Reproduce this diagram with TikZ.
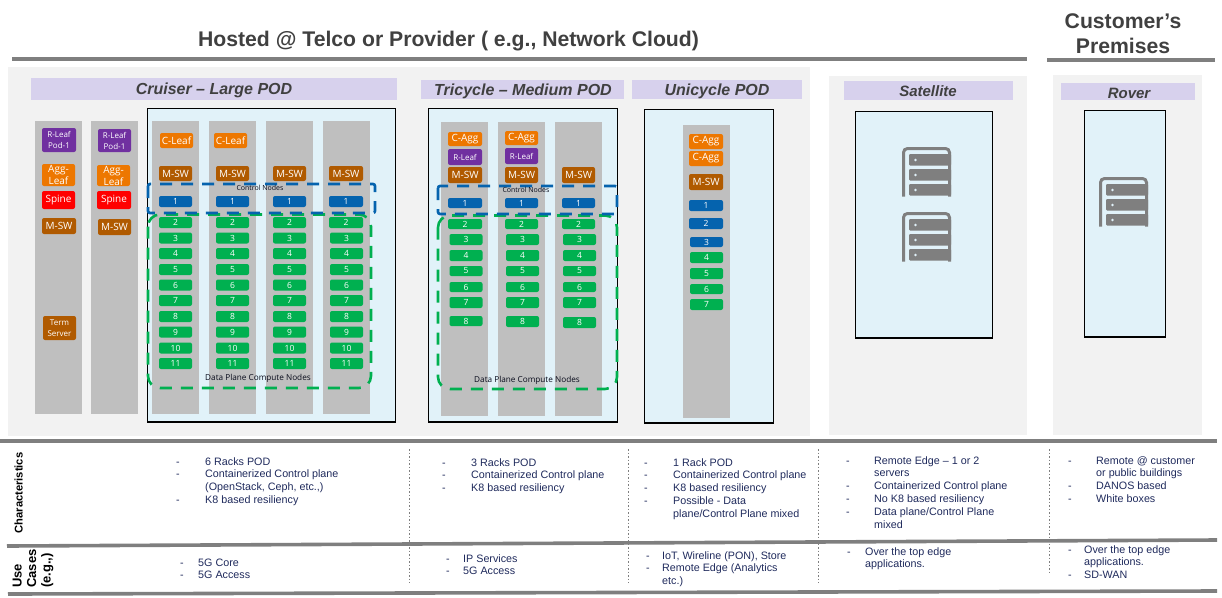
\documentclass[tikz,border=0pt]{standalone}
\usepackage{fontspec}
\setmainfont{Liberation Sans}
\newfontfamily\chipfont{Open Sans}
\definecolor{custcol_f2_f2_f2}{RGB}{242, 242, 242}
\definecolor{custcol_d7_d1_ed}{RGB}{215, 209, 237}
\definecolor{custcol_e1_f2_f9}{RGB}{225, 242, 249}
\definecolor{custcol_bf_bf_bf}{RGB}{191, 191, 191}
\definecolor{custcol_7f_7f_7f}{RGB}{127, 127, 127}
\definecolor{custcol_40_40_40}{RGB}{64, 64, 64}
\definecolor{custcol_1f_2a_5c}{RGB}{31, 42, 92}
\definecolor{custcol_ed_77_00}{RGB}{237, 119, 0}
\definecolor{custcol_70_30_a0}{RGB}{112, 48, 160}
\definecolor{custcol_b0_5a_00}{RGB}{176, 90, 0}
\definecolor{custcol_05_63_ae}{RGB}{5, 99, 174}
\definecolor{custcol_00_b0_50}{RGB}{0, 176, 80}
\tikzset{
  chipbox/.style={inner sep=0, rounded corners=2, text=white, align=center, minimum width=33, minimum height=16, font=\chipfont\fontsize{10pt}{12pt}\selectfont},
  orangebox/.style={chipbox, fill=custcol_ed_77_00},
  purplebox/.style={chipbox, fill=custcol_70_30_a0, font=\chipfont\fontsize{8pt}{11pt}\selectfont},
  brownbox/.style={chipbox, fill=custcol_b0_5a_00},
  redbox/.style={chipbox, fill=red, minimum height=18},
  bluebox/.style={chipbox, fill=custcol_05_63_ae, minimum height=11, font=\chipfont\fontsize{8.5pt}{9pt}\selectfont},
  greenbox/.style={chipbox, fill=custcol_00_b0_50, minimum height=11, font=\chipfont\fontsize{8.5pt}{9pt}\selectfont},
  podtitle/.style={inner sep=0, text=custcol_40_40_40, font=\fontsize{16pt}{16pt}\bfseries\itshape\selectfont},
  headtitle/.style={inner sep=0, text=custcol_40_40_40, font=\fontsize{21.2pt}{25pt}\bfseries\selectfont, align=center},
  smallnote/.style={inner sep=0, text=black!70!custcol_1f_2a_5c, font=\chipfont\fontsize{7pt}{8pt}\selectfont},
  listtext/.style={inner sep=0, anchor=north west, align=left, text=custcol_1f_2a_5c, font=\fontsize{10.75pt}{12.8pt}\selectfont},
  rowtitle/.style={inner sep=0, rotate=90, align=left, text=black, font=\fontsize{11.2pt}{14.5pt}\bfseries\selectfont},
  blackbox/.style={draw=black, line width=1.2pt, fill=custcol_e1_f2_f9},
  bluedash/.style={draw=custcol_05_63_ae, line width=2.6pt, dash pattern=on 12pt off 9pt, rounded corners=2},
  greendash/.style={draw=custcol_00_b0_50, line width=2.6pt, dash pattern=on 12pt off 9pt, rounded corners=12},
  rowrule/.style={draw=custcol_7f_7f_7f, line width=3.6pt},
  coldots/.style={draw=custcol_7f_7f_7f, line width=1pt, dash pattern=on 1.5pt off 2pt},
  serverrack/.pic={
    \draw [custcol_7f_7f_7f, line width=3pt, rounded corners=4] (1.5,49.5) -- (1.5,1.5) -- (47.5,1.5) -- (47.5,49.5);
    \fill [custcol_7f_7f_7f, rounded corners=1] (7,7) rectangle (49,18.5);
    \fill [custcol_7f_7f_7f, rounded corners=1] (7,22) rectangle (49,33.5);
    \fill [custcol_7f_7f_7f, rounded corners=1] (7,37) rectangle (49,48.5);
    \fill [custcol_e1_f2_f9] (13.5,13) circle (1.4);
    \fill [custcol_e1_f2_f9] (13.5,28) circle (1.4);
    \fill [custcol_e1_f2_f9] (13.5,43) circle (1.4);
  },
}
\begin{document}
\begin{tikzpicture}[x=1pt,y=-1pt]
\useasboundingbox (0,0) rectangle (1222,597);
% grey panels
\fill [custcol_f2_f2_f2] (8,67) rectangle (810,436);
\fill [custcol_f2_f2_f2] (829,76) rectangle (1027,435);
\fill [custcol_f2_f2_f2] (1053,75) rectangle (1202,435);
% title bars
\fill [custcol_d7_d1_ed] (31,78) rectangle (397,100);
\fill [custcol_d7_d1_ed] (421,80) rectangle (624,99);
\fill [custcol_d7_d1_ed] (632,80) rectangle (802,99);
\fill [custcol_d7_d1_ed] (844,81) rectangle (1013,100);
\fill [custcol_d7_d1_ed] (1061,83) rectangle (1195,100);
% pod boxes
\draw [blackbox] (147.5,108.5) rectangle (395.5,422);
\draw [blackbox] (428.5,108.5) rectangle (617.5,422);
\draw [blackbox] (644.5,109.5) rectangle (773.5,423);
\draw [blackbox] (855.5,111.5) rectangle (992.5,338);
\draw [blackbox] (1084.5,110.5) rectangle (1165.5,337);
% racks
\fill [custcol_bf_bf_bf] (35,121) rectangle (82,414);
\fill [custcol_bf_bf_bf] (91,121) rectangle (138,414);
\fill [custcol_bf_bf_bf] (152,121) rectangle (199,414);
\fill [custcol_bf_bf_bf] (209,121) rectangle (256,414);
\fill [custcol_bf_bf_bf] (266,121) rectangle (313,414);
\fill [custcol_bf_bf_bf] (323,121) rectangle (370,414);
\fill [custcol_bf_bf_bf] (441,122) rectangle (488,416);
\fill [custcol_bf_bf_bf] (498,122) rectangle (545,416);
\fill [custcol_bf_bf_bf] (555,122) rectangle (602,416);
\fill [custcol_bf_bf_bf] (683,125) rectangle (730,418);
% cruiser, left racks
\node [purplebox, minimum width=34, minimum height=24] (rleaf_a) at (59,140) {R-Leaf\\Pod-1};
\node [purplebox, minimum height=23] (rleaf_b) at (114.5,140.5) {R-Leaf\\Pod-1};
\node [orangebox, minimum height=22] (agg_a) at (58.5,175) {Agg-\\Leaf};
\node [orangebox, minimum height=21] (agg_b) at (113.5,175.5) {Agg-\\Leaf};
\node [redbox] (spine_a) at (58.5,200) {Spine};
\node [redbox, minimum width=34] (spine_b) at (114,200) {Spine};
\node [brownbox, minimum width=34] (msw_a) at (59,226) {M-SW};
\node [brownbox] (msw_b) at (114.5,227) {M-SW};
\node [brownbox, minimum height=24, font=\chipfont\fontsize{8pt}{11pt}\selectfont] (term_a) at (59.5,328) {Term\\Server};
% cruiser, large pod
\node [orangebox, minimum height=15] (cleaf_a) at (176.5,140.5) {C-Leaf};
\node [orangebox, minimum height=15] (cleaf_b) at (230.5,140.5) {C-Leaf};
\node [brownbox, minimum height=15] (msw_c) at (175.5,173.5) {M-SW};
\node [brownbox, minimum height=15] (msw_d) at (232.5,173.5) {M-SW};
\node [brownbox, minimum height=15] (msw_e) at (289.5,173.5) {M-SW};
\node [brownbox, minimum height=15, minimum width=34] (msw_f) at (346,173.5) {M-SW};
\node [bluebox] (ca1) at (175.5,201.5) {1};
\node [bluebox] (cb1) at (232.5,201.5) {1};
\node [bluebox] (cc1) at (289.5,201.5) {1};
\node [bluebox, minimum width=34] (cd1) at (346,201.5) {1};
\node [greenbox] (ca2) at (175.5,222.5) {2};
\node [greenbox] (cb2) at (232.5,222.5) {2};
\node [greenbox] (cc2) at (289.5,222.5) {2};
\node [greenbox, minimum width=34] (cd2) at (346,222.5) {2};
\node [greenbox] (ca3) at (175.5,238) {3};
\node [greenbox] (cb3) at (232.5,238) {3};
\node [greenbox] (cc3) at (289.5,238) {3};
\node [greenbox] (cd3) at (346.5,238) {3};
\node [greenbox] (ca4) at (175.5,253.5) {4};
\node [greenbox] (cb4) at (232.5,253.5) {4};
\node [greenbox] (cc4) at (289.5,253.5) {4};
\node [greenbox] (cd4) at (346.5,253.5) {4};
\node [greenbox] (ca5) at (175.5,269.5) {5};
\node [greenbox] (cb5) at (232.5,269.5) {5};
\node [greenbox] (cc5) at (289.5,269.5) {5};
\node [greenbox] (cd5) at (346.5,269.5) {5};
\node [greenbox] (ca6) at (175.5,285) {6};
\node [greenbox] (cb6) at (232.5,285) {6};
\node [greenbox] (cc6) at (289.5,285) {6};
\node [greenbox] (cd6) at (346.5,285) {6};
\node [greenbox] (ca7) at (175.5,300.5) {7};
\node [greenbox] (cb7) at (232.5,300.5) {7};
\node [greenbox] (cc7) at (289.5,300.5) {7};
\node [greenbox] (cd7) at (346.5,300.5) {7};
\node [greenbox] (ca8) at (175.5,316.5) {8};
\node [greenbox] (cb8) at (232.5,316.5) {8};
\node [greenbox] (cc8) at (289.5,316.5) {8};
\node [greenbox] (cd8) at (346.5,316.5) {8};
\node [greenbox] (ca9) at (175.5,332) {9};
\node [greenbox] (cb9) at (232.5,332) {9};
\node [greenbox] (cc9) at (289.5,332) {9};
\node [greenbox] (cd9) at (346.5,332) {9};
\node [greenbox] (ca10) at (175.5,348) {10};
\node [greenbox] (cb10) at (232.5,348) {10};
\node [greenbox] (cc10) at (289.5,348) {10};
\node [greenbox] (cd10) at (346.5,348) {10};
\node [greenbox] (ca11) at (175.5,363.5) {11};
\node [greenbox] (cb11) at (232.5,363.5) {11};
\node [greenbox] (cc11) at (289.5,363.5) {11};
\node [greenbox] (cd11) at (346.5,363.5) {11};
% tricycle
\node [orangebox, minimum width=34, minimum height=14] (cagg_a) at (465,139) {C-Agg};
\node [orangebox, minimum height=14] (cagg_b) at (521.5,138) {C-Agg};
\node [purplebox, minimum width=34] (rleaf_c) at (465,157) {R-Leaf};
\node [purplebox] (rleaf_d) at (521.5,156) {R-Leaf};
\node [brownbox, minimum width=34] (msw_g) at (465,175) {M-SW};
\node [brownbox] (msw_h) at (521.5,175) {M-SW};
\node [brownbox] (msw_i) at (578.5,175) {M-SW};
\node [bluebox, minimum width=34, minimum height=10] (ta1) at (465,203) {1};
\node [bluebox, minimum height=10] (tb1) at (521.5,203) {1};
\node [bluebox, minimum height=10] (tc1) at (578.5,203) {1};
\node [greenbox, minimum width=34, minimum height=10] (ta2) at (465,224) {2};
\node [greenbox, minimum height=10] (tb2) at (521.5,224) {2};
\node [greenbox, minimum height=10] (tc2) at (578.5,224) {2};
\node [greenbox] (ta3) at (466,239.5) {3};
\node [greenbox] (tb3) at (522.5,239.5) {3};
\node [greenbox] (tc3) at (579.5,239.5) {3};
\node [greenbox] (ta4) at (466,255.5) {4};
\node [greenbox] (tb4) at (522.5,255.5) {4};
\node [greenbox] (tc4) at (579.5,255.5) {4};
\node [greenbox, minimum height=10] (ta5) at (466,271) {5};
\node [greenbox, minimum height=10] (tb5) at (522.5,271) {5};
\node [greenbox, minimum height=10] (tc5) at (579.5,271) {5};
\node [greenbox, minimum height=10] (ta6) at (466,287) {6};
\node [greenbox, minimum height=10] (tb6) at (522.5,287) {6};
\node [greenbox, minimum height=10] (tc6) at (579.5,287) {6};
\node [greenbox] (ta7) at (466,302.5) {7};
\node [greenbox] (tb7) at (522.5,302.5) {7};
\node [greenbox] (tc7) at (579.5,302.5) {7};
\node [greenbox, minimum height=10] (ta8) at (466,321) {8};
\node [greenbox] (tb8) at (522.5,321.5) {8};
\node [greenbox] (tc8) at (579.5,322.5) {8};
% unicycle
\node [orangebox, minimum width=34, minimum height=15] (cagg_c) at (706,141.5) {C-Agg};
\node [orangebox, minimum width=34, minimum height=15] (cagg_d) at (706,158.5) {C-Agg};
\node [brownbox, minimum width=34] (msw_j) at (706,182) {M-SW};
\node [bluebox, minimum width=34] (ua1) at (706,205.5) {1};
\node [bluebox, minimum width=34] (ua2) at (706,223.5) {2};
\node [bluebox, minimum height=10] (ua3) at (706.5,242) {3};
\node [greenbox] (ua4) at (706.5,257.5) {4};
\node [greenbox] (ua5) at (706.5,273.5) {5};
\node [greenbox, minimum height=10] (ua6) at (706.5,289) {6};
\node [greenbox] (ua7) at (706.5,304.5) {7};
% dashed groups
\draw [greendash] (148,214.5) rectangle (371,388);
\draw [bluedash] (148,184) rectangle (375,213);
\draw [greendash] (438,215.5) rectangle (617,389);
\draw [bluedash] (438,186) rectangle (617,214);
\node [smallnote] (note_ctrl_a) at (260,188) {Control Nodes};
\node [smallnote, font=\chipfont\fontsize{8.2pt}{9pt}\selectfont] (note_data_a) at (258,378) {Data Plane Compute Nodes};
\node [smallnote] (note_ctrl_b) at (526,190) {Control Nodes};
\node [smallnote, font=\chipfont\fontsize{8.2pt}{9pt}\selectfont] (note_data_b) at (527,380) {Data Plane Compute Nodes};
% server icons
\pic at (902,147) {serverrack};
\pic at (902,212) {serverrack};
\pic at (1099,177) {serverrack};
% titles
\node [headtitle] (head_hosted) at (448.5,41) {Hosted @ Telco or Provider ( e.g., Network Cloud)};
\node [headtitle] (head_customer) at (1123,34) {Customer’s\\Premises};
\node [podtitle] (pod_cruiser) at (214,90) {Cruiser – Large POD};
\node [podtitle] (pod_tricycle) at (523,91.5) {Tricycle – Medium POD};
\node [podtitle] (pod_unicycle) at (717,91.5) {Unicycle POD};
\node [podtitle, font=\fontsize{15pt}{15pt}\bfseries\itshape\selectfont] (pod_satellite) at (928,91) {Satellite};
\node [podtitle, font=\fontsize{15pt}{15pt}\bfseries\itshape\selectfont] (pod_rover) at (1129,93) {Rover};
% rules
\draw [custcol_7f_7f_7f, line width=4pt] (12,59) -- (1027,59);
\draw [custcol_7f_7f_7f, line width=4pt] (1047,60) -- (1215,60);
\draw [rowrule] (0,441) -- (1217,441);
\draw [rowrule] (7,546) -- (1217,540);
\draw [rowrule] (8,594) -- (1217,591);
\draw [coldots] (409,449) -- (409,583);
\draw [coldots] (628,449) -- (628,583);
\draw [coldots] (818,449) -- (818,583);
\draw [coldots] (1049,449) -- (1049,575);
% row labels
\node [rowtitle] (row_char) at (18.5,493) {Characteristics};
\node [rowtitle, anchor=west, font=\fontsize{13pt}{14.5pt}\bfseries\selectfont] (row_use) at (33,588) {Use\\Cases\\(e.g.,)};
% characteristics
\node [listtext] (dash_a) at (176,456) {\strut -\\-\\\\-};
\node [listtext] (char_a) at (205,456) {\strut 6 Racks POD\\Containerized Control plane\\(OpenStack, Ceph, etc.,)\\K8 based resiliency};
\node [listtext] (dash_b) at (442,457) {\strut -\\-\\-};
\node [listtext] (char_b) at (471,457) {\strut 3 Racks POD\\Containerized Control plane\\K8 based resiliency};
\node [listtext] (dash_c) at (644,457) {\strut -\\-\\-\\-};
\node [listtext] (char_c) at (673,457) {\strut 1 Rack POD\\Containerized Control plane\\K8 based resiliency\\Possible - Data\\plane/Control Plane mixed};
\node [listtext] (dash_d) at (846,455) {\strut -\\\\-\\-\\-};
\node [listtext] (char_d) at (874,455) {\strut Remote Edge  – 1 or 2\\servers\\Containerized Control plane\\No K8 based resiliency\\Data plane/Control Plane\\mixed};
\node [listtext] (dash_e) at (1068,455) {\strut -\\\\-\\-};
\node [listtext] (char_e) at (1096,455) {\strut Remote @ customer\\or public buildings\\DANOS based\\White boxes};
% use cases
\node [listtext] (dash_f) at (180,557) {\strut -\\-};
\node [listtext] (use_a) at (198,557) {\strut 5G Core\\5G Access};
\node [listtext] (dash_g) at (446,553) {\strut -\\-};
\node [listtext] (use_b) at (463,553) {\strut IP Services\\5G Access};
\node [listtext] (dash_h) at (646,550) {\strut -\\-};
\node [listtext] (use_c) at (662,550) {\strut IoT, Wireline (PON), Store\\Remote Edge (Analytics\\etc.)};
\node [listtext] (dash_i) at (847,546) {\strut -};
\node [listtext] (use_d) at (865,546) {\strut Over the top edge\\applications.};
\node [listtext] (dash_j) at (1068,544) {\strut -\\\\-};
\node [listtext] (use_e) at (1084,544) {\strut Over the top edge\\applications.\\SD-WAN};
\end{tikzpicture}
\end{document}
